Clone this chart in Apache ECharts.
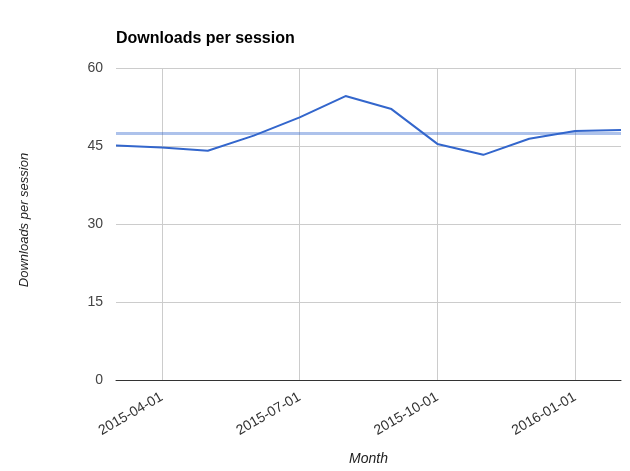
<!DOCTYPE html>
<html>
<head>
<meta charset="utf-8">
<script src="https://cdn.jsdelivr.net/npm/echarts@6/dist/echarts.min.js"></script>
<style>
  html, body { margin: 0; padding: 0; background: #fff; }
  #chart { width: 630px; height: 471px; }
</style>
</head>
<body>
<div id="chart"></div>
<script>
const months = ['2015-03-01', '2015-04-01', '2015-05-01', '2015-06-01', '2015-07-01', '2015-08-01',
                '2015-09-01', '2015-10-01', '2015-11-01', '2015-12-01', '2016-01-01', '2016-02-01'];
const downloadsPerSession = [45.1, 44.7, 44.1, 47.0, 50.5, 54.6, 52.1, 45.4, 43.3, 46.4, 47.9, 48.1];
const averageLine = 47.5;
const yTicks = [0, 15, 30, 45, 60];

// show a label / gridline every quarter (Apr, Jul, Oct, Jan)
const quarterTick = (idx) => idx % 3 === 1;

const chart = echarts.init(document.getElementById('chart'));
chart.setOption({
    animation: false,
    textStyle: { fontFamily: 'Arial, "Liberation Sans", sans-serif' },
    title: {
        text: 'Downloads per session',
        left: 111,
        top: 26,
        textStyle: { fontSize: 16, fontWeight: 'bold', color: '#000' }
    },
    grid: { left: 116, right: 9, top: 68, bottom: 91, outerBoundsMode: 'none' },
    xAxis: {
        type: 'category',
        data: months,
        boundaryGap: false,
        name: 'Month',
        nameLocation: 'middle',
        nameGap: 72,
        nameTextStyle: { fontStyle: 'italic', fontSize: 14, color: '#222' },
        axisLine: { lineStyle: { color: '#333', width: 1 } },
        axisTick: { show: false },
        axisLabel: {
            interval: quarterTick,
            rotate: 30,
            margin: 16,
            fontSize: 14,
            color: '#333'
        },
        splitLine: {
            show: true,
            interval: quarterTick,
            lineStyle: { color: '#ccc', width: 1 }
        }
    },
    yAxis: {
        type: 'value',
        min: yTicks[0],
        max: yTicks[yTicks.length - 1],
        interval: 15,
        name: 'Downloads per session',
        nameLocation: 'middle',
        nameGap: 85,
        nameTextStyle: { fontStyle: 'italic', fontSize: 13, color: '#222', padding: [0, 0, 0, 8] },
        axisLine: { show: false },
        axisTick: { show: false },
        axisLabel: { fontSize: 14, color: '#444', margin: 13 },
        splitLine: { lineStyle: { color: '#ccc', width: 1 } }
    },
    series: [{
        name: 'Downloads per session',
        type: 'line',
        data: downloadsPerSession,
        showSymbol: false,
        lineStyle: { color: '#3366cc', width: 2 },
        itemStyle: { color: '#3366cc' },
        markLine: {
            silent: true,
            symbol: 'none',
            label: { show: false },
            lineStyle: { color: 'rgba(51,102,204,0.4)', width: 3, type: 'solid' },
            data: [{ yAxis: averageLine }]
        }
    }]
});
</script>
</body>
</html>
